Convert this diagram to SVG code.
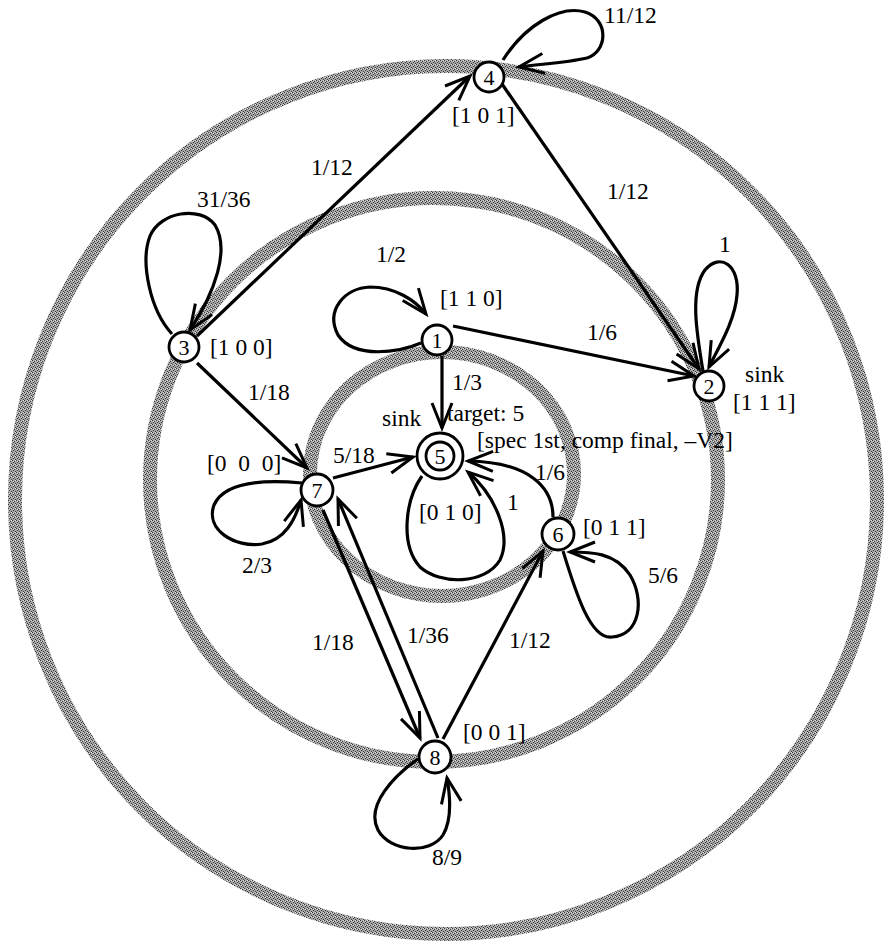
<svg xmlns="http://www.w3.org/2000/svg" width="894" height="944" viewBox="0 0 894 944">
<defs>
<pattern id="stip" width="4" height="4" patternUnits="userSpaceOnUse">
<rect width="4" height="4" fill="#a6a6a6"/>
<rect x="0" y="0" width="1" height="1" fill="#3a3a3a"/>
<rect x="2" y="1" width="1" height="1" fill="#3a3a3a"/>
<rect x="1" y="2" width="1" height="1" fill="#3a3a3a"/>
<rect x="3" y="3" width="1" height="1" fill="#3a3a3a"/>
<rect x="3" y="0" width="1" height="1" fill="#e0e0e0"/>
<rect x="1" y="1" width="1" height="1" fill="#e0e0e0"/>
</pattern>
<marker id="arr" markerUnits="userSpaceOnUse" viewBox="-30 -15 34 30" refX="0" refY="0" markerWidth="34" markerHeight="30" orient="auto">
<path d="M -25,-10 L 0,0 L -25,10" fill="none" stroke="#000" stroke-width="3"/>
</marker>
<style>
.ring{fill:none;stroke:url(#stip);stroke-width:14}
.e{fill:none;stroke:#000;stroke-width:3.2;marker-end:url(#arr)}
.n{fill:#fff;stroke:#000;stroke-width:2.8}
.t{font-family:"Liberation Serif","Times New Roman",serif;font-size:23.5px;fill:#000}
.nt{font-family:"Liberation Serif","Times New Roman",serif;font-size:22px;fill:#000;text-anchor:middle}
</style>
</defs>
<rect width="894" height="944" fill="#fff"/>
<g id="rings">
<ellipse class="ring" cx="446" cy="500" rx="431" ry="434"/>
<ellipse class="ring" cx="434" cy="480" rx="284" ry="282"/>
<ellipse class="ring" cx="442" cy="474" rx="132" ry="122"/>
</g>
<g id="connectors">
<path class="e" d="M 197,336 L 470,76"/>
<path class="e" d="M 502,84 L 699,369"/>
<path class="e" d="M 503,60 C 525,25 560,5 585,12 C 610,20 607,52 587,58 C 565,63 540,64 519,67"/>
<path class="e" d="M 172,334 C 150,310 140,262 150,236 C 160,212 200,205 215,225 C 230,250 215,292 190,330"/>
<path class="e" d="M 421,343 C 400,352 355,360 338,335 C 325,310 345,288 370,287 C 395,287 415,300 426,314"/>
<path class="e" d="M 703,371 C 696,330 690,290 705,270 C 720,252 740,265 737,295 C 735,320 720,345 709,367"/>
<path class="e" d="M 453,326 L 694,376"/>
<path class="e" d="M 442,356 L 442,428"/>
<path class="e" d="M 422,476 C 405,500 400,545 420,567 C 440,585 485,585 500,560 C 512,535 495,495 468,472"/>
<path class="e" d="M 333,478 L 413,457"/>
<path class="e" d="M 302,483 C 270,480 225,480 214,505 C 205,530 235,548 262,544 C 285,540 295,520 301,500"/>
<path class="e" d="M 197,363 L 307,468"/>
<path class="e" d="M 323,510 L 420,738"/>
<path class="e" d="M 438,738 L 338,499"/>
<path class="e" d="M 443,739 L 543,551"/>
<path class="e" d="M 553,517 C 553,488 530,462 468,461"/>
<path class="e" d="M 563,551 C 575,590 590,640 612,637 C 640,635 645,600 630,575 C 615,552 590,552 570,552"/>
<path class="e" d="M 418,759 C 395,775 365,805 378,830 C 390,852 430,855 443,835 C 452,820 450,795 447,778"/>
<text class="t" x="604" y="23">11/12</text>
<text class="t" x="311" y="175">1/12</text>
<text class="t" x="607" y="199">1/12</text>
<text class="t" x="197" y="207">31/36</text>
<text class="t" x="376" y="262">1/2</text>
<text class="t" x="719" y="252">1</text>
<text class="t" x="587" y="340">1/6</text>
<text class="t" x="248" y="400">1/18</text>
<text class="t" x="452" y="390">1/3</text>
<text class="t" x="333" y="463">5/18</text>
<text class="t" x="242" y="573">2/3</text>
<text class="t" x="507" y="510">1</text>
<text class="t" x="535" y="480">1/6</text>
<text class="t" x="648" y="583">5/6</text>
<text class="t" x="312" y="650">1/18</text>
<text class="t" x="407" y="643">1/36</text>
<text class="t" x="509" y="648">1/12</text>
<text class="t" x="432" y="865">8/9</text>
</g>
<g id="node1"><circle class="n" cx="437" cy="340" r="15"/><text class="nt" x="437" y="348">1</text><text class="t" x="440" y="306">[1 1 0]</text></g>
<g id="node2"><circle class="n" cx="709" cy="386" r="15"/><text class="nt" x="709" y="394">2</text><text class="t" x="745" y="382">sink</text><text class="t" x="733" y="410">[1 1 1]</text></g>
<g id="node3"><circle class="n" cx="184" cy="347" r="15"/><text class="nt" x="184" y="355">3</text><text class="t" x="210" y="355">[1 0 0]</text></g>
<g id="node4"><circle class="n" cx="489" cy="77" r="15"/><text class="nt" x="489" y="85">4</text><text class="t" x="452" y="123">[1 0 1]</text></g>
<g id="node5"><circle class="n" cx="440" cy="456" r="23"/><circle class="n" cx="440" cy="456" r="14"/><text class="nt" x="440" y="464">5</text><text class="t" x="382" y="426">sink</text><text class="t" x="447" y="421">target: 5</text><text class="t" x="477" y="448">[spec 1st, comp final, –V2]</text><text class="t" x="419" y="520">[0 1 0]</text></g>
<g id="node6"><circle class="n" cx="558" cy="534" r="16"/><text class="nt" x="558" y="542">6</text><text class="t" x="583" y="535">[0 1 1]</text></g>
<g id="node7"><circle class="n" cx="317" cy="490" r="16"/><text class="nt" x="317" y="498">7</text><text class="t" x="207" y="471" xml:space="preserve">[0  0  0]</text></g>
<g id="node8"><circle class="n" cx="435" cy="757" r="16"/><text class="nt" x="435" y="765">8</text><text class="t" x="463" y="740">[0 0 1]</text></g>
</svg>
